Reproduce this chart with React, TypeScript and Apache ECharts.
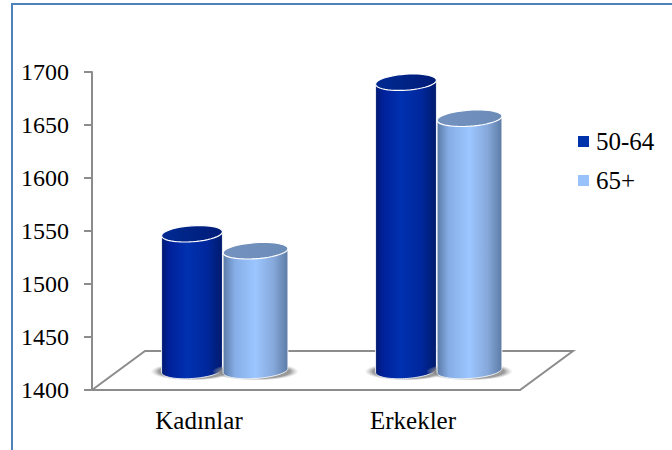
import React, { useEffect, useRef } from "react";
import * as echarts from "echarts";

const categories = ["Kadınlar", "Erkekler"];
const values5064 = [1529, 1672];
const values65 = [1513, 1638];
const yTicks = { min: 1400, max: 1700, step: 50 };

const FONT = "Liberation Serif";
const DEPTH_X = 53;
const DEPTH_Y = 39;
const AXIS = "#8c8c8c";

function ellipsePts(cx: number, cy: number, rx: number, ry: number, from: number, to: number, n = 48) {
  const tilt = (-4 * Math.PI) / 180;
  const pts: number[][] = [];
  for (let i = 0; i <= n; i++) {
    const t = from + ((to - from) * i) / n;
    const ex = rx * Math.cos(t);
    const ey = ry * Math.sin(t);
    pts.push([cx + ex * Math.cos(tilt) - ey * Math.sin(tilt), cy + ex * Math.sin(tilt) + ey * Math.cos(tilt)]);
  }
  return pts;
}

function hGrad(stops: [number, string][]) {
  return new echarts.graphic.LinearGradient(0, 0, 1, 0, stops.map(([offset, color]) => ({ offset, color })));
}

function cylinder(offset: number, width: number, body: [number, string][], top: [number, string][]) {
  return (params: any, api: any) => {
    const p = api.coord([api.value(0), api.value(1)]);
    const base = api.coord([api.value(0), yTicks.min]);
    const cx = p[0] + DEPTH_X / 2 + offset;
    const topY = p[1] - DEPTH_Y / 2;
    const botY = base[1] - DEPTH_Y / 2;
    const rx = width / 2;
    const ry = 8;
    const bodyPts = [
      ...ellipsePts(cx, botY, rx, ry, Math.PI, 0),
      ...ellipsePts(cx, topY, rx, ry, 0, -Math.PI),
    ];
    return {
      type: "group",
      children: [
        {
          type: "ellipse",
          shape: { cx: cx, cy: botY + 1, rx: rx + 11, ry: ry + 1 },
          style: {
            fill: new echarts.graphic.RadialGradient(0.5, 0.5, 0.5, [
              { offset: 0, color: "rgba(120,120,120,0.85)" },
              { offset: 0.8, color: "rgba(130,130,130,0.8)" },
              { offset: 1, color: "rgba(190,190,190,0)" },
            ]),
          },
        },
        {
          type: "polygon",
          shape: { points: bodyPts },
          style: { fill: hGrad(body), stroke: "rgba(255,255,255,0.85)", lineWidth: 1 },
        },
        {
          type: "polygon",
          shape: { points: ellipsePts(cx, topY, rx, ry, 0, Math.PI * 2) },
          style: { fill: hGrad(top), stroke: "#ffffff", lineWidth: 1.2 },
        },
      ],
    };
  };
}

function floor(params: any) {
  const g = params.coordSys;
  const l = g.x;
  const r = g.x + g.width;
  const b = g.y + g.height;
  return {
    type: "polygon",
    shape: {
      points: [
        [l, b],
        [l + DEPTH_X, b - DEPTH_Y],
        [r + DEPTH_X, b - DEPTH_Y],
        [r, b],
      ],
    },
    style: { fill: "#ffffff", stroke: AXIS, lineWidth: 2 },
  };
}

export default function App() {
  const ref = useRef<HTMLDivElement>(null);
  useEffect(() => {
    const chart = echarts.init(ref.current!, undefined, { renderer: "svg" });
    const darkBody: [number, string][] = [
      [0, "#001a70"], [0.12, "#00209a"], [0.42, "#0031b0"], [0.75, "#00279c"], [1, "#001a6c"],
    ];
    const darkTop: [number, string][] = [[0, "#002a92"], [1, "#001c78"]];
    const lightBody: [number, string][] = [
      [0, "#5a7aa6"], [0.18, "#86ade6"], [0.5, "#9cc6ff"], [0.78, "#86a8da"], [1, "#5c7ba6"],
    ];
    const lightTop: [number, string][] = [[0, "#7492bf"], [1, "#6c8cb8"]];
    chart.setOption({
      animation: false,
      backgroundColor: "#ffffff",
      textStyle: { fontFamily: FONT },
      graphic: [
        {
          type: "rect",
          shape: { x: 12, y: 4, width: 900, height: 700 },
          style: { fill: "none", stroke: "#4f81bd", lineWidth: 2 },
          silent: true,
        },
      ],
      grid: { left: 92, top: 72, width: 428, height: 318, containLabel: false },
      legend: {
        orient: "vertical",
        left: 578,
        top: 129,
        padding: 0,
        itemWidth: 11,
        itemHeight: 11,
        itemGap: 14,
        icon: "rect",
        textStyle: { fontFamily: FONT, fontSize: 25, color: "#000", padding: [0, 0, 0, 2] },
        data: [
          { name: "50-64", itemStyle: { color: "#0033ab" } },
          { name: "65+", itemStyle: { color: "#99c2fb" } },
        ],
      },
      xAxis: {
        type: "category",
        data: categories,
        axisLine: { lineStyle: { color: AXIS, width: 2 } },
        axisTick: { length: 8, lineStyle: { color: AXIS, width: 2 } },
        axisLabel: { fontFamily: FONT, fontSize: 25, color: "#000", margin: 18 },
      },
      yAxis: {
        type: "value",
        min: yTicks.min,
        max: yTicks.max,
        interval: yTicks.step,
        splitLine: { show: false },
        axisLine: { show: true, lineStyle: { color: AXIS, width: 2 } },
        axisTick: { show: true, length: 8, lineStyle: { color: AXIS, width: 2 } },
        axisLabel: {
          fontFamily: FONT,
          fontSize: 24,
          color: "#000",
          margin: 23,
          padding: [8, 0, 0, 0],
          formatter: (v: number) => String(v),
        },
      },
      series: [
        {
          name: "floor",
          type: "custom",
          coordinateSystem: "cartesian2d",
          renderItem: floor,
          data: [[0, yTicks.min]],
          encode: { x: 0, y: 1 },
          clip: false,
          silent: true,
          z: 1,
        },
        {
          name: "50-64",
          type: "custom",
          coordinateSystem: "cartesian2d",
          renderItem: cylinder(-33.5, 61, darkBody, darkTop),
          itemStyle: { color: "#0033ab" },
          data: values5064.map((v, i) => [i, v]),
          encode: { x: 0, y: 1 },
          clip: false,
          z: 2,
        },
        {
          name: "65+",
          type: "custom",
          coordinateSystem: "cartesian2d",
          renderItem: cylinder(30, 65, lightBody, lightTop),
          itemStyle: { color: "#99c2fb" },
          data: values65.map((v, i) => [i, v]),
          encode: { x: 0, y: 1 },
          clip: false,
          z: 3,
        },
      ],
    });
    return () => chart.dispose();
  }, []);
  return <div ref={ref} style={{ position: "absolute", left: 0, top: 0, width: 672, height: 450 }} />;
}
